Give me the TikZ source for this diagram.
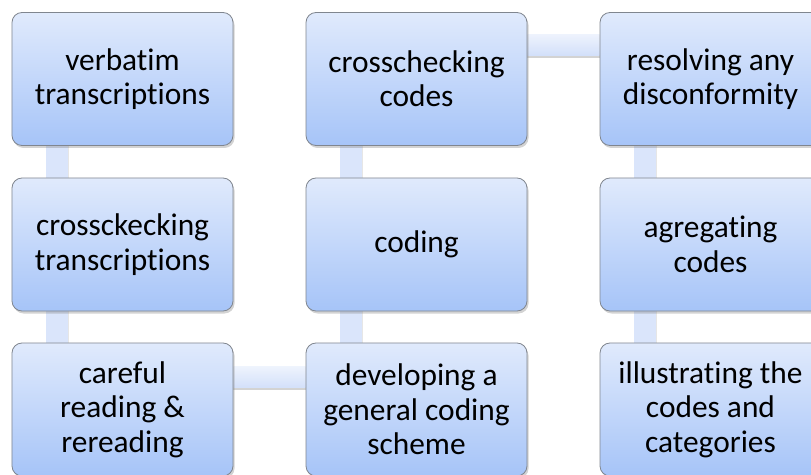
\documentclass[tikz,border=0pt]{standalone}
\usepackage{fontspec}
\setmainfont[Ligatures=NoCommon]{Carlito}
\usetikzlibrary{shadows}
\pgfdeclarelayer{background}
\pgfsetlayers{background,main}
\definecolor{boxtop}{HTML}{E0EAFC}
\definecolor{boxbot}{HTML}{A6C4F8}
\definecolor{boxline}{HTML}{80868F}
\definecolor{bartop}{HTML}{EEF3FD}
\definecolor{barbot}{HTML}{D3E0FA}
\definecolor{barv}{HTML}{DAE5FB}
\tikzset{
  stepbox/.style={
    rounded corners=10bp, draw=boxline, line width=0.8bp,
    top color=boxtop, bottom color=boxbot,
    minimum width=221bp, minimum height=133bp,
    align=center, inner sep=4bp,
    font=\fontsize{31.5}{34.5}\selectfont,
    drop shadow={opacity=0.35, shadow xshift=1.5bp, shadow yshift=-2.5bp}
  },
  hbar/.style={top color=bartop, bottom color=barbot,
    drop shadow={opacity=0.35, shadow xshift=0bp, shadow yshift=-2.5bp}},
  vbar/.style={fill=barv,
    drop shadow={opacity=0.2, shadow xshift=1bp, shadow yshift=0bp}}
}
\begin{document}
\begin{tikzpicture}[x=1bp, y=-1bp]
  \clip (0,0) rectangle (811,475);

  % first column, top to bottom
  \node[stepbox] (verb) at (122.5,79) {verbatim\\transcriptions};
  \node[stepbox] (cross) at (122.5,244.5) {crossckecking\\transcriptions};
  \node[stepbox] (read) at (122.5,409.5) {careful\\reading \&\\rereading};
  % second column, bottom to top
  \node[stepbox] (scheme) at (416.5,409.5) {developing a\\general coding\\scheme};
  \node[stepbox] (coding) at (416.5,244.5) {coding};
  \node[stepbox] (check) at (416.5,79) {crosschecking\\codes};
  % third column, top to bottom
  \node[stepbox] (resolve) at (710.5,79) {resolving any\\disconformity};
  \node[stepbox] (aggr) at (710.5,244.5) {agregating\\codes};
  \node[stepbox] (illus) at (710.5,409.5) {illustrating the\\codes and\\categories};

  % connecting bars behind the boxes
  \begin{pgfonlayer}{background}
    \path[vbar] ([xshift=34bp]verb.south west) rectangle ([xshift=56bp]cross.north west);
    \path[vbar] ([xshift=34bp]cross.south west) rectangle ([xshift=56bp]read.north west);
    \path[hbar] ([yshift=-24bp]read.north east) rectangle ([yshift=-45bp]scheme.north west);
    \path[vbar] ([xshift=34bp]coding.south west) rectangle ([xshift=56bp]scheme.north west);
    \path[vbar] ([xshift=34bp]check.south west) rectangle ([xshift=56bp]coding.north west);
    \path[hbar] ([yshift=-22bp]check.north east) rectangle ([yshift=-43bp]resolve.north west);
    \path[vbar] ([xshift=34bp]resolve.south west) rectangle ([xshift=56bp]aggr.north west);
    \path[vbar] ([xshift=34bp]aggr.south west) rectangle ([xshift=56bp]illus.north west);
  \end{pgfonlayer}
\end{tikzpicture}
\end{document}
